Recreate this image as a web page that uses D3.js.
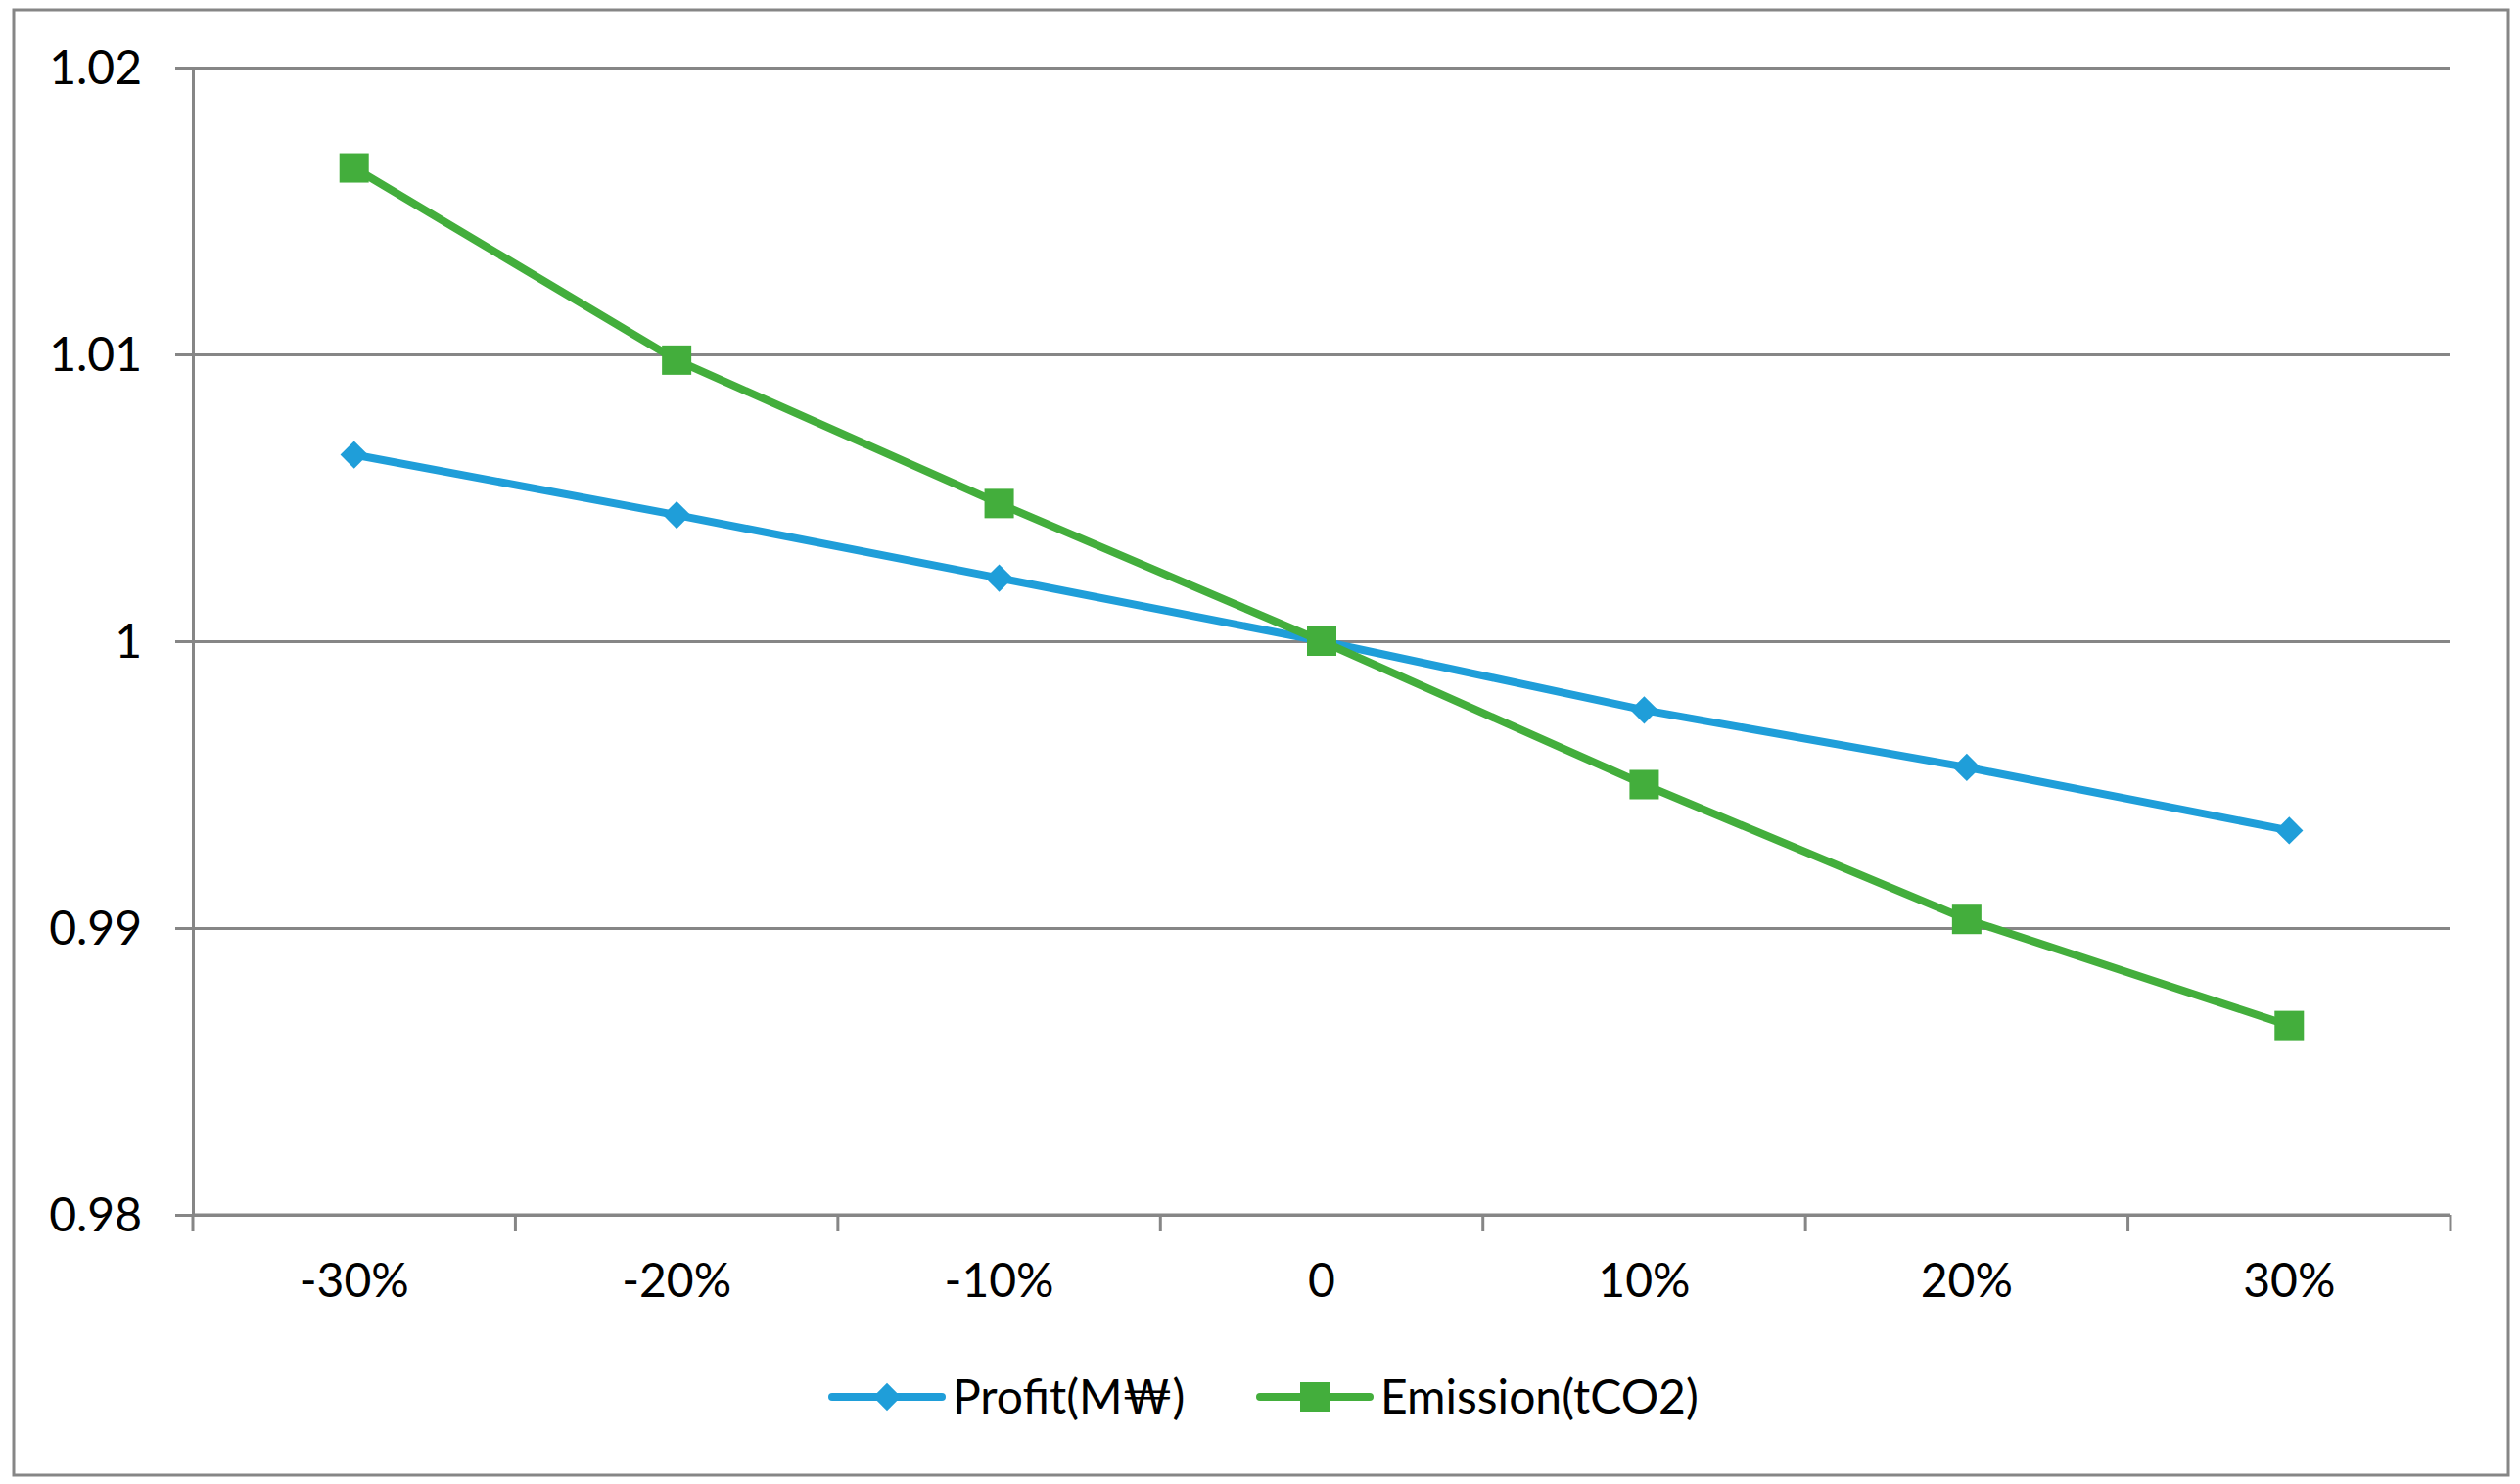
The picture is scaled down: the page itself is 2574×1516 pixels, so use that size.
<!DOCTYPE html>
<html>
<meta charset="utf-8">
<script src="https://d3js.org/d3.v7.min.js"></script>
<style>
  body { margin: 0; background: #fff; }
  text { font-family: Lato, "Open Sans", sans-serif; fill: #000; }
</style>
<body>
<div id="chart"></div>
<script>

    // data
    var categories = ["-30%", "-20%", "-10%", "0", "10%", "20%", "30%"];
    var profit   = [1.0065, 1.0044, 1.0022, 1.0000, 0.9976, 0.9956, 0.9934];
    var emission = [1.0165, 1.0098, 1.0048, 1.0000, 0.9950, 0.9903, 0.9866];
    var yTicks   = [0.98, 0.99, 1, 1.01, 1.02];
    var seriesNames = ["Profit(M\u20A9)", "Emission(tCO2)"];

    var W = 2574, H = 1516;
    var margin = {top: 69, right: 71, bottom: 275, left: 197},
        width = W - margin.left - margin.right,
        height = H - margin.top - margin.bottom;

    var grey = "#868686", blue = "#1f9ed9", green = "#43ae3c";

    var svg = d3.select("#chart")
      .append("svg")
        .attr("width", W)
        .attr("height", H);

    // outer frame
    svg.append("rect")
        .attr("x", 14).attr("y", 10)
        .attr("width", W - 26).attr("height", H - 19)
        .attr("fill", "none")
        .attr("stroke", grey)
        .attr("stroke-width", 3);

    var g = svg.append("g")
        .attr("transform", "translate(" + margin.left + "," + margin.top + ")");

    var x = d3.scaleBand()
      .domain(categories)
      .range([0, width]);

    var y = d3.scaleLinear()
      .domain([0.98, 1.02])
      .range([height, 0]);

    // y axis with gridlines
    var yAxis = g.append("g")
      .call(d3.axisLeft(y).tickValues(yTicks).tickSize(18).tickPadding(34)
        .tickFormat(function(d) { return d === 1 ? "1" : d3.format(".2f")(d); }));
    yAxis.select(".domain").attr("stroke", grey).attr("stroke-width", 3);
    yAxis.selectAll(".tick line").attr("stroke", grey).attr("stroke-width", 3);
    yAxis.selectAll(".tick text").style("font-size", "48px").attr("dy", "0.35em");
    yAxis.selectAll(".tick").append("line")
      .attr("x1", 0).attr("x2", width)
      .attr("stroke", grey).attr("stroke-width", 3);

    // x axis, ticks on category boundaries
    var xAxis = g.append("g")
      .attr("transform", "translate(0," + height + ")")
      .call(d3.axisBottom(x).tickSize(0).tickPadding(50));
    xAxis.select(".domain").remove();
    xAxis.selectAll(".tick text").style("font-size", "48px");
    var bounds = categories.map(function(c) { return x(c); }).concat([width]);
    xAxis.selectAll(".bound")
      .data(bounds)
      .enter()
      .append("line")
        .attr("x1", function(d) { return d; })
        .attr("x2", function(d) { return d; })
        .attr("y1", 0).attr("y2", 17)
        .attr("stroke", grey).attr("stroke-width", 3);
    xAxis.append("line")
      .attr("x1", 0).attr("x2", width)
      .attr("stroke", grey).attr("stroke-width", 3);

    var cx = function(i) { return x(categories[i]) + x.bandwidth() / 2; };
    var line = d3.line()
      .x(function(d, i) { return cx(i); })
      .y(function(d) { return y(d); });

    g.append("path")
      .datum(profit)
      .attr("d", line)
      .attr("fill", "none")
      .attr("stroke", blue)
      .attr("stroke-width", 8);

    g.append("path")
      .datum(emission)
      .attr("d", line)
      .attr("fill", "none")
      .attr("stroke", green)
      .attr("stroke-width", 8);

    var diamond = d3.symbol().type(d3.symbolSquare).size(400);
    g.selectAll(".pmark")
      .data(profit)
      .enter()
      .append("path")
        .attr("d", diamond)
        .attr("transform", function(d, i) { return "translate(" + cx(i) + "," + y(d) + ") rotate(45)"; })
        .attr("fill", blue);

    g.selectAll(".emark")
      .data(emission)
      .enter()
      .append("rect")
        .attr("x", function(d, i) { return cx(i) - 15; })
        .attr("y", function(d) { return y(d) - 15; })
        .attr("width", 30).attr("height", 30)
        .attr("fill", green);

    // legend
    var legY = 1427;
    var leg = svg.append("g");
    var items = [
      {name: seriesNames[0], color: blue, x: 850, kind: "diamond"},
      {name: seriesNames[1], color: green, x: 1287, kind: "square"}
    ];
    items.forEach(function(it) {
      leg.append("line")
        .attr("x1", it.x).attr("x2", it.x + 112)
        .attr("y1", legY).attr("y2", legY)
        .attr("stroke", it.color).attr("stroke-width", 8)
        .attr("stroke-linecap", "round");
      if (it.kind === "diamond") {
        leg.append("path")
          .attr("d", diamond)
          .attr("transform", "translate(" + (it.x + 56) + "," + legY + ") rotate(45)")
          .attr("fill", it.color);
      } else {
        leg.append("rect")
          .attr("x", it.x + 56 - 15).attr("y", legY - 15)
          .attr("width", 30).attr("height", 30)
          .attr("fill", it.color);
      }
      leg.append("text")
        .attr("x", it.x + 123)
        .attr("y", legY)
        .attr("dy", "0.35em")
        .style("font-size", "48px")
        .text(it.name);
    });

</script>
</body>
</html>
